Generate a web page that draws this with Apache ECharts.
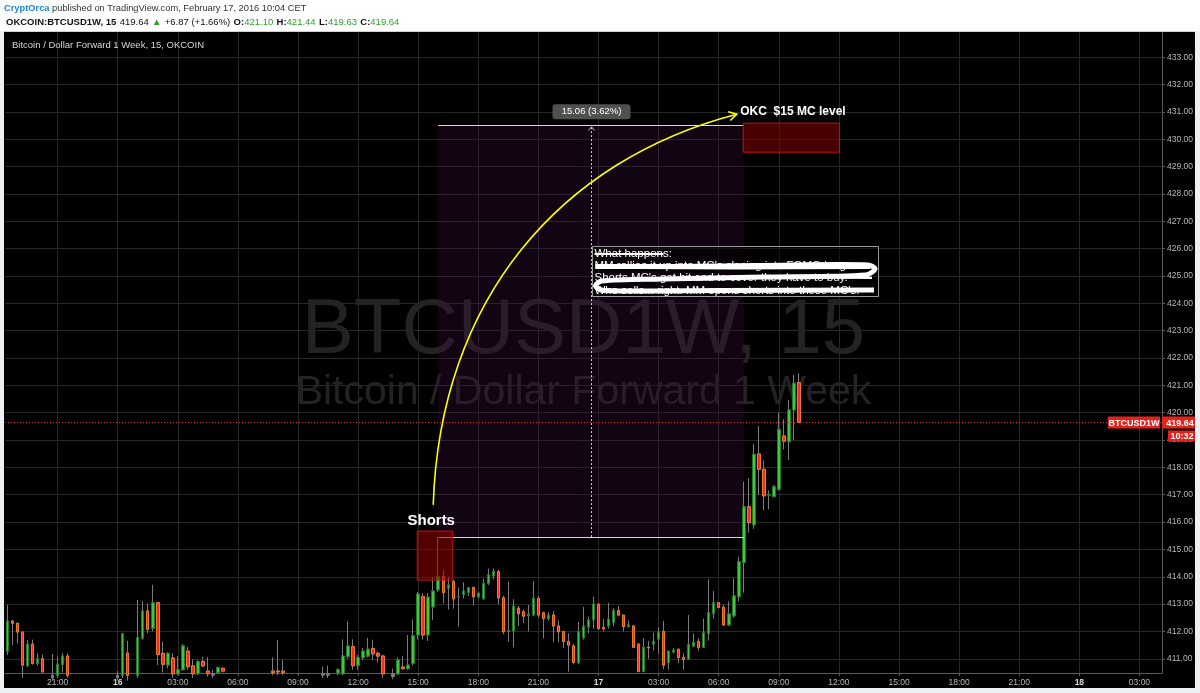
<!DOCTYPE html>
<html><head><meta charset="utf-8">
<script src="https://cdn.jsdelivr.net/npm/echarts@6/dist/echarts.min.js"></script>
<style>html,body{margin:0;padding:0;background:#eef1f4;}#c{width:1200px;height:693px;}</style>
</head><body><div id="c"></div>
<script>
// ---------------- DATA (15-minute bars, OKCOIN BTCUSD1W) ----------------
const opens = [
411.28,412.38,412.30,411.98,410.75,411.54,410.83,411.00,410.45,410.30,
410.40,410.80,411.10,410.40,410.30,410.25,410.35,410.20,410.30,410.15,
410.25,410.20,410.30,410.40,411.21,410.40,410.40,411.75,412.75,412.11,
413.05,411.20,410.77,411.03,410.45,410.60,411.28,410.74,410.45,410.90,
410.55,410.45,410.50,410.65,410.40,410.30,410.40,410.30,410.40,410.30,
410.40,410.30,410.40,410.55,410.55,410.55,410.40,410.30,410.40,410.30,
410.40,410.30,410.40,410.40,410.45,410.40,410.48,410.45,411.08,411.44,
410.75,411.04,411.10,411.38,411.20,411.10,410.45,410.35,410.45,410.70,
410.64,410.83,411.87,413.27,411.87,412.90,413.52,414.00,413.58,413.82,
413.27,413.36,413.43,413.61,413.27,413.19,413.76,414.04,414.19,413.23,
412.00,412.02,412.85,412.72,412.58,412.60,413.21,412.68,412.48,412.60,
412.20,412.00,411.63,411.47,410.87,411.78,412.17,412.42,413.00,412.14,
412.20,412.33,412.76,412.60,412.17,412.20,411.54,410.53,411.42,411.54,
411.72,412.00,410.86,411.25,411.35,411.05,410.98,411.46,411.63,411.42,
411.93,412.66,413.05,412.88,412.24,412.57,413.27,414.52,416.56,415.90,
418.49,417.93,416.99,416.93,417.20,419.15,418.94,420.10,421.10];
const closes = [
412.38,412.30,411.98,410.77,411.54,410.83,411.00,410.52,410.30,410.40,
410.80,411.10,410.40,410.30,410.25,410.35,410.20,410.30,410.15,410.25,
410.20,410.30,410.40,411.91,410.40,410.30,411.77,412.75,412.08,413.05,
411.16,410.80,411.20,410.45,410.60,411.47,410.71,410.45,410.90,410.74,
410.45,410.40,410.68,410.55,410.30,410.40,410.30,410.40,410.30,410.40,
410.30,410.40,410.35,410.50,410.52,410.50,410.30,410.40,410.30,410.40,
410.30,410.40,410.35,410.45,410.40,410.45,410.60,411.10,411.47,410.75,
411.05,411.28,411.35,411.18,411.10,410.45,410.35,410.45,410.96,410.64,
410.77,411.84,413.37,411.87,413.25,413.48,414.00,413.42,413.70,413.19,
413.28,413.48,413.60,413.27,413.40,413.76,414.07,414.19,413.23,411.99,
412.03,412.93,412.65,412.56,412.63,413.21,412.60,412.48,412.60,412.20,
411.99,411.63,411.50,410.87,411.99,412.20,412.42,413.00,412.11,412.10,
412.45,412.76,412.60,412.17,412.24,411.42,410.53,411.42,411.40,411.64,
411.97,410.77,411.28,411.32,411.05,410.98,411.53,411.60,411.42,411.95,
412.69,413.05,412.88,412.24,412.64,413.30,414.55,416.56,415.98,418.48,
417.93,416.96,417.00,417.29,419.39,418.96,420.10,421.08,419.64];
const lows = [
411.14,411.50,411.57,410.30,410.70,410.78,410.75,410.50,410.10,410.20,
410.30,410.50,410.30,410.15,410.10,410.20,410.05,410.10,410.00,410.05,
410.10,410.10,410.20,410.30,410.20,410.10,410.30,411.70,411.93,412.00,
410.77,410.50,410.65,410.30,410.40,410.55,410.60,410.30,410.40,410.70,
410.35,410.30,410.45,410.50,410.20,410.25,410.20,410.25,410.20,410.25,
410.20,410.25,410.25,410.40,410.40,410.40,410.20,410.25,410.20,410.25,
410.20,410.25,410.25,410.30,410.30,410.30,410.40,410.40,411.00,410.60,
410.60,410.95,411.05,410.95,410.87,410.30,410.20,410.25,410.40,410.60,
410.60,410.75,411.70,411.70,411.65,412.42,413.45,413.03,412.80,412.84,
412.17,413.20,413.30,412.95,413.20,413.19,413.70,413.90,413.00,411.90,
411.63,411.42,412.20,412.30,412.00,412.55,412.50,411.75,412.40,411.63,
411.60,411.40,410.53,410.80,410.80,411.70,411.93,412.10,412.05,412.00,
412.10,412.20,412.55,412.00,412.17,411.40,410.53,410.53,411.00,411.30,
411.17,410.62,410.60,411.20,410.84,410.60,410.98,411.46,411.30,411.42,
411.66,412.46,412.85,412.20,412.20,412.50,413.10,413.42,415.61,415.75,
416.99,416.44,416.47,416.90,417.15,418.66,418.27,419.00,419.63];
const highs = [
412.97,412.42,412.30,411.98,411.69,411.70,411.20,411.15,410.45,411.17,
411.08,411.20,411.20,410.45,410.35,410.40,410.40,410.35,410.35,410.30,
410.30,410.35,410.55,411.95,411.65,410.45,413.15,413.11,413.03,413.70,
413.05,411.62,411.25,411.20,411.10,411.54,411.43,410.98,410.95,411.07,
411.07,410.60,410.72,410.68,410.45,410.45,410.45,410.45,410.45,410.45,
410.45,410.45,410.45,411.05,411.69,410.96,410.45,410.45,410.45,410.45,
410.45,410.45,410.45,410.71,410.75,410.47,410.65,411.71,412.38,411.71,
411.14,411.40,411.77,411.70,411.26,411.15,410.45,410.64,411.05,411.10,
411.87,412.44,413.45,413.40,413.40,413.98,415.45,414.25,414.00,413.90,
413.60,413.80,413.62,413.62,413.45,413.93,414.30,414.30,414.25,413.30,
413.82,413.18,412.93,412.80,412.97,413.84,413.30,412.72,412.70,412.75,
412.40,412.00,411.93,411.55,412.35,412.90,412.54,413.27,413.00,412.45,
413.05,412.85,412.93,412.60,412.40,412.22,411.56,411.75,411.66,411.95,
412.15,412.38,411.28,411.40,411.35,411.20,412.60,411.92,411.75,412.47,
413.91,413.48,413.05,412.98,413.10,413.94,414.73,417.48,417.60,418.86,
419.51,418.25,417.15,417.35,420.00,419.76,420.47,421.38,421.44];

// x axis: 15-minute slots from 15 Feb 18:30 to 18 Feb 04:00
const SLOT_COUNT = 231;
const FIRST_TICK = 10;      // 15 Feb 21:00
const TICK_EVERY = 12;      // every 3 hours
const xTickLabels = ['21:00','16','03:00','06:00','09:00','12:00','15:00','18:00','21:00','17','03:00','06:00','09:00','12:00','15:00','18:00','21:00','18','03:00'];
const categories = [];
const startUTC = Date.UTC(2016, 1, 15, 18, 30);
for (let i = 0; i < SLOT_COUNT; i++) {
  categories.push(new Date(startUTC + i * 900000).toISOString().slice(0, 16).replace('T', ' '));
}
const Y_MIN = 410.48, Y_MAX = 433.925;

// drawings (in bar index / price coordinates)
const measure = { i0: 86, i1: 147, low: 415.45, high: 430.51, label: '15.06 (3.62%)' };
const shortsBox = { i0: 81.8, i1: 88.9, top: 415.67, bottom: 413.88, label: 'Shorts' };
const okcBox = { i0: 146.9, i1: 166.1, top: 430.59, bottom: 429.53, label: 'OKC  $15 MC level' };
const arrow = { s: [85.0, 416.63], c1: [86.3, 424.13], c2: [110.3, 429.24], e: [145.6, 430.92] };
const noteBox = { i0: 116.6, i1: 173.8, top: 426.10, bottom: 424.27 };
const noteLines = ['What happens:', "MM rallies it up into MC's closing into FOMO longs", "Shorts MC's get hit and to cover they have to buy.", "Who sells... right. MM opens shorts into these MC's."];

const FONT = "'Liberation Sans', Arial, sans-serif";
const ohlc = opens.map((o, i) => [o, closes[i], lows[i], highs[i]]);
const bodies = opens.map((o, i) => [o, closes[i], Math.min(o, closes[i]), Math.max(o, closes[i])]);
const lastClose = closes[closes.length - 1];

const isTick = (idx) => idx >= FIRST_TICK && (idx - FIRST_TICK) % TICK_EVERY === 0;

const chart = echarts.init(document.getElementById('c'), null, { renderer: 'canvas' });
const GRID = { left: 5, right: 38, top: 32, bottom: 20 };
chart.setOption({
  animation: false,
  backgroundColor: '#000000',
  grid: Object.assign({ outerBoundsMode: 'none', containLabel: false }, GRID),
  xAxis: {
    type: 'category', data: categories, boundaryGap: true,
    axisLine: { show: true, lineStyle: { color: '#5a5a5a', width: 1 } },
    axisTick: { show: true, interval: isTick, alignWithLabel: true, length: 3, lineStyle: { color: '#5a5a5a' } },
    axisLabel: {
      interval: isTick, color: '#b8b8b8', fontSize: 8.5, fontFamily: FONT, margin: 5,
      formatter: (v, idx) => {
        const t = xTickLabels[(idx - FIRST_TICK) / TICK_EVERY] || '';
        return t.indexOf(':') < 0 ? '{d|' + t + '}' : t;
      },
      rich: { d: { fontWeight: 'bold', color: '#d8d8d8', fontSize: 8.5, fontFamily: FONT } }
    },
    splitLine: { show: true, interval: isTick, alignWithLabel: true, lineStyle: { color: '#282828', width: 1 } }
  },
  yAxis: {
    type: 'value', position: 'right', scale: true, min: Y_MIN, max: Y_MAX,
    splitNumber: 23, minInterval: 1, maxInterval: 1,
    axisLine: { show: true, lineStyle: { color: '#5a5a5a' } },
    axisTick: { show: true, length: 3, lineStyle: { color: '#5a5a5a' } },
    axisLabel: { color: '#b8b8b8', fontSize: 8.5, fontFamily: FONT, margin: 5, showMinLabel: false, showMaxLabel: false,
      formatter: (v) => v.toFixed(2) },
    splitLine: { show: true, showMinLine: false, showMaxLine: false, lineStyle: { color: '#282828', width: 1 } }
  },
  series: [
    { type: 'candlestick', name: 'wicks', data: ohlc, barWidth: 3, clip: true, silent: true, z: 3,
      itemStyle: { color: '#7c7c7c', color0: '#7c7c7c', borderColor: '#7c7c7c', borderColor0: '#7c7c7c', borderWidth: 1 },
      markLine: { silent: true, symbol: ['none', 'none'], label: { show: false },
        lineStyle: { color: '#e8231b', type: [1, 2], width: 1 }, data: [{ yAxis: lastClose }] } },
    { type: 'candlestick', name: 'bodies', data: bodies, barWidth: 3, clip: true, silent: true, z: 4,
      itemStyle: { color: '#43c443', color0: '#f2301c', borderColor: '#1f7a22', borderColor0: '#f0782a', borderWidth: 1 } }
  ]
});

// ---- pixel helpers derived from the axes ----
const pa = chart.convertToPixel({ xAxisIndex: 0, yAxisIndex: 0 }, [0, 420]);
const pb = chart.convertToPixel({ xAxisIndex: 0, yAxisIndex: 0 }, [100, 430]);
const X = (i) => pa[0] + (pb[0] - pa[0]) * i / 100;
const Y = (v) => pa[1] + (pb[1] - pa[1]) * (v - 420) / 10;
const W = 1200, H = 693;
const gL = GRID.left, gR = W - GRID.right, gT = GRID.top, gB = H - GRID.bottom;

const g = [];
// watermark
const cx = (gL + gR) / 2;
g.push({ type: 'text', z: 1, silent: true, x: cx, y: 331, style: { text: 'BTCUSD1W, 15', fill: '#232323', font: '78px ' + FONT, align: 'center', verticalAlign: 'middle' } });
g.push({ type: 'text', z: 1, silent: true, x: cx, y: 393, style: { text: 'Bitcoin / Dollar Forward 1 Week', fill: '#232323', font: '41px ' + FONT, align: 'center', verticalAlign: 'middle' } });
// measure shaded area
const mx0 = X(measure.i0), mx1 = X(measure.i1), my0 = Y(measure.high), my1 = Y(measure.low);
g.push({ type: 'rect', z: 1, silent: true, shape: { x: mx0, y: my0, width: mx1 - mx0, height: my1 - my0 }, style: { fill: 'rgba(60,12,60,0.3)' } });
// measure lines (above candles)
g.push({ type: 'line', z: 10, silent: true, shape: { x1: mx0, y1: Math.round(my0) + 0.5, x2: mx1, y2: Math.round(my0) + 0.5 }, style: { stroke: '#d8d8d8', lineWidth: 1 } });
g.push({ type: 'line', z: 10, silent: true, shape: { x1: mx0, y1: Math.round(my1) + 0.5, x2: mx1, y2: Math.round(my1) + 0.5 }, style: { stroke: '#d8d8d8', lineWidth: 1 } });
const mcx = Math.round((mx0 + mx1) / 2) + 0.5;
g.push({ type: 'line', z: 10, silent: true, shape: { x1: mcx, y1: my1, x2: mcx, y2: my0 + 1 }, style: { stroke: '#d0d0d0', lineWidth: 1, lineDash: [2, 2] } });
g.push({ type: 'polyline', z: 10, silent: true, shape: { points: [[mcx - 3, my0 + 5], [mcx, my0 + 1.5], [mcx + 3, my0 + 5]] }, style: { stroke: '#d0d0d0', lineWidth: 1, fill: null } });
g.push({ type: 'rect', z: 10, silent: true, shape: { x: mcx - 39, y: my0 - 21, width: 78, height: 15, r: 3 }, style: { fill: '#505050' } });
g.push({ type: 'text', z: 11, silent: true, x: mcx, y: my0 - 13.5, style: { text: measure.label, fill: '#ffffff', font: '9.5px ' + FONT, align: 'center', verticalAlign: 'middle' } });
// shorts box
const sx0 = X(shortsBox.i0), sx1 = X(shortsBox.i1), sy0 = Y(shortsBox.top), sy1 = Y(shortsBox.bottom);
g.push({ type: 'rect', z: 10, silent: true, shape: { x: sx0, y: sy0, width: sx1 - sx0, height: sy1 - sy0 }, style: { fill: 'rgba(150,0,0,0.55)', stroke: '#c81010', lineWidth: 1 } });
g.push({ type: 'text', z: 11, silent: true, x: sx0 + 14, y: sy0 - 10, style: { text: shortsBox.label, fill: '#ffffff', font: 'bold 15px ' + FONT, align: 'center', verticalAlign: 'middle' } });
// OKC box
const ox0 = X(okcBox.i0), ox1 = X(okcBox.i1), oy0 = Y(okcBox.top), oy1 = Y(okcBox.bottom);
g.push({ type: 'rect', z: 10, silent: true, shape: { x: ox0, y: oy0, width: ox1 - ox0, height: oy1 - oy0 }, style: { fill: 'rgba(120,0,0,0.6)', stroke: '#c81010', lineWidth: 1 } });
g.push({ type: 'text', z: 11, silent: true, x: ox0 - 3, y: oy0 - 11, style: { text: okcBox.label, fill: '#ffffff', font: 'bold 12px ' + FONT, align: 'left', verticalAlign: 'middle' } });
// yellow curved arrow
const P = (p) => [X(p[0]), Y(p[1])];
const as = P(arrow.s), ac1 = P(arrow.c1), ac2 = P(arrow.c2), ae = P(arrow.e);
g.push({ type: 'bezierCurve', z: 12, silent: true, shape: { x1: as[0], y1: as[1], cpx1: ac1[0], cpy1: ac1[1], cpx2: ac2[0], cpy2: ac2[1], x2: ae[0], y2: ae[1] }, style: { stroke: '#ffff00', lineWidth: 1.6, fill: null } });
(function () {
  const dx = ae[0] - ac2[0], dy = ae[1] - ac2[1], L = Math.hypot(dx, dy);
  const ux = dx / L, uy = dy / L, len = 9, a = Math.PI / 6;
  const p1 = [ae[0] - len * (ux * Math.cos(a) - uy * Math.sin(a)), ae[1] - len * (uy * Math.cos(a) + ux * Math.sin(a))];
  const p2 = [ae[0] - len * (ux * Math.cos(a) + uy * Math.sin(a)), ae[1] - len * (uy * Math.cos(a) - ux * Math.sin(a))];
  g.push({ type: 'polyline', z: 12, silent: true, shape: { points: [p1, ae, p2] }, style: { stroke: '#ffff00', lineWidth: 1.6, fill: null } });
})();
// note box with scribbled text
const nx0 = X(noteBox.i0), nx1 = X(noteBox.i1), ny0 = Y(noteBox.top), ny1 = Y(noteBox.bottom);
g.push({ type: 'rect', z: 10, silent: true, shape: { x: Math.round(nx0) + 0.5, y: Math.round(ny0) + 0.5, width: Math.round(nx1 - nx0), height: Math.round(ny1 - ny0) }, style: { fill: 'rgba(0,0,0,0.45)', stroke: '#9a9a9a', lineWidth: 1 } });
noteLines.forEach((t, k) => {
  g.push({ type: 'text', z: 11, silent: true, x: nx0 + 3, y: ny0 + 7.5 + k * 12.3, style: { text: t, fill: '#ffffff', font: '11.5px ' + FONT, align: 'left', verticalAlign: 'middle' } });
});
const bw = nx1 - nx0;
g.push({ type: 'line', z: 12, silent: true, shape: { x1: nx0 + 3, y1: ny0 + 8, x2: nx0 + 72, y2: ny0 + 8 }, style: { stroke: '#ffffff', lineWidth: 2 } });
g.push({ type: 'polyline', z: 12, silent: true, shape: { smooth: 0.3, points: [
  [nx0 + 4, ny0 + 20.5], [nx0 + bw * 0.3, ny0 + 20.5], [nx0 + bw * 0.6, ny0 + 19.5], [nx0 + bw - 10, ny0 + 19], [nx0 + bw - 3, ny0 + 23],
  [nx0 + bw - 12, ny0 + 29], [nx0 + bw * 0.6, ny0 + 31], [nx0 + bw * 0.25, ny0 + 33], [nx0 + 10, ny0 + 35], [nx0 + 4, ny0 + 40],
  [nx0 + 12, ny0 + 44.5], [nx0 + bw * 0.45, ny0 + 44.5], [nx0 + bw - 4, ny0 + 44]] }, style: { stroke: '#ffffff', lineWidth: 5, fill: null } });
g.push({ type: 'polyline', z: 12, silent: true, shape: { smooth: 0.3, points: [
  [nx0 + bw * 0.3, ny0 + 33], [nx0 + bw * 0.55, ny0 + 32], [nx0 + bw * 0.8, ny0 + 31.5], [nx0 + bw - 6, ny0 + 32]] }, style: { stroke: '#ffffff', lineWidth: 2.2, fill: null } });
g.push({ type: 'polyline', z: 12, silent: true, shape: { smooth: 0.3, points: [
  [nx0 + bw * 0.15, ny0 + 21.5], [nx0 + bw * 0.5, ny0 + 22], [nx0 + bw - 8, ny0 + 21.5]] }, style: { stroke: '#ffffff', lineWidth: 3, fill: null } });

// price tags on the right axis
const yp = Y(lastClose);
g.push({ type: 'rect', z: 20, silent: true, shape: { x: gR - 54, y: yp - 6, width: 52, height: 12 }, style: { fill: '#e3231b' } });
g.push({ type: 'text', z: 21, silent: true, x: gR - 28, y: yp + 0.5, style: { text: 'BTCUSD1W', fill: '#ffffff', font: 'bold 9px ' + FONT, align: 'center', verticalAlign: 'middle' } });
g.push({ type: 'rect', z: 20, silent: true, shape: { x: gR, y: yp - 6, width: 34, height: 12 }, style: { fill: '#e3231b' } });
g.push({ type: 'text', z: 21, silent: true, x: gR + 18, y: yp + 0.5, style: { text: lastClose.toFixed(2), fill: '#ffffff', font: 'bold 9px ' + FONT, align: 'center', verticalAlign: 'middle' } });
g.push({ type: 'rect', z: 20, silent: true, shape: { x: gR + 6, y: yp + 8, width: 28, height: 11 }, style: { fill: '#e3231b' } });
g.push({ type: 'text', z: 21, silent: true, x: gR + 20, y: yp + 14, style: { text: '10:32', fill: '#ffffff', font: 'bold 9px ' + FONT, align: 'center', verticalAlign: 'middle' } });

// pane title
g.push({ type: 'text', z: 20, silent: true, x: 12, y: 45, style: { text: 'Bitcoin / Dollar Forward 1 Week, 15, OKCOIN', fill: '#d6d6d6', font: '9.5px ' + FONT, align: 'left', verticalAlign: 'middle' } });

// page frame and header
g.push({ type: 'rect', z: 30, silent: true, shape: { x: 0, y: 0, width: W, height: 31 }, style: { fill: '#ffffff' } });
g.push({ type: 'rect', z: 30, silent: true, shape: { x: 0, y: 31, width: W, height: 1 }, style: { fill: '#cfd3d8' } });
g.push({ type: 'rect', z: 30, silent: true, shape: { x: 0, y: 31, width: 4, height: H - 31 }, style: { fill: '#eef1f4' } });
g.push({ type: 'rect', z: 30, silent: true, shape: { x: 1195, y: 31, width: 5, height: H - 31 }, style: { fill: '#eef1f4' } });
g.push({ type: 'rect', z: 30, silent: true, shape: { x: 0, y: 688, width: W, height: 5 }, style: { fill: '#eef1f4' } });
g.push({ type: 'text', z: 31, silent: true, x: 4, y: 8.5, style: {
  text: '{u|CryptOrca}{t| published on TradingView.com, February 17, 2016 10:04 CET}', verticalAlign: 'middle', align: 'left',
  rich: { u: { fill: '#1e88d0', font: 'bold 9.3px ' + FONT }, t: { fill: '#333333', font: '9.3px ' + FONT } } } });
g.push({ type: 'text', z: 31, silent: true, x: 6, y: 22.5, style: {
  text: '{b|OKCOIN:BTCUSD1W, 15} {n|419.64} {g|▲} {n|+6.87 (+1.66%)} {b|O:}{g|421.10} {b|H:}{g|421.44} {b|L:}{g|419.63} {b|C:}{g|419.64}',
  verticalAlign: 'middle', align: 'left',
  rich: { b: { fill: '#111111', font: 'bold 9.5px ' + FONT }, n: { fill: '#111111', font: '9.5px ' + FONT }, g: { fill: '#2ea02e', font: '9.5px ' + FONT } } } });

chart.setOption({ graphic: { elements: g } });
</script>
</body></html>
